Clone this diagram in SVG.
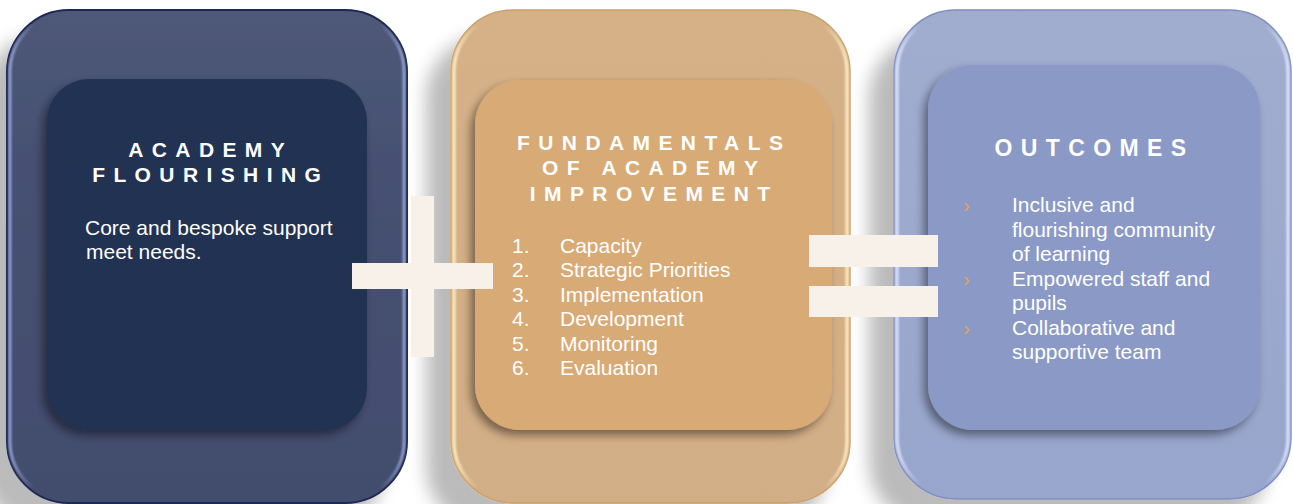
<svg xmlns="http://www.w3.org/2000/svg" width="1293" height="504" viewBox="0 0 1293 504">
  <style>
    .head { font-family: "Liberation Sans", Arial, sans-serif; font-weight: bold; font-size: 21px; letter-spacing: 8.4px; fill: #ffffff; text-anchor: middle; }
    .body { font-family: "Liberation Sans", Arial, sans-serif; font-size: 21px; fill: #ffffff; }
    .bullet { font-family: "Liberation Sans", Arial, sans-serif; font-size: 21px; fill: #e3a35a; }
    .sign { fill: #f8f1ea; }
  </style>
  <defs>
    <!-- soft shadow cast by the large panels -->
    <filter id="panelShadow" x="-20%" y="-20%" width="140%" height="140%">
      <feGaussianBlur in="SourceAlpha" stdDeviation="9"/>
      <feOffset dx="-24" dy="26" result="s"/>
      <feComponentTransfer in="s" result="sa"><feFuncA type="linear" slope="0.27"/></feComponentTransfer>
      <feMerge><feMergeNode in="sa"/><feMergeNode in="SourceGraphic"/></feMerge>
    </filter>
    <!-- shadow under the inner cards -->
    <filter id="cardShadow" x="-20%" y="-20%" width="140%" height="140%">
      <feGaussianBlur in="SourceAlpha" stdDeviation="5"/>
      <feOffset dx="-4" dy="5" result="s"/>
      <feComponentTransfer in="s" result="sa"><feFuncA type="linear" slope="0.45"/></feComponentTransfer>
      <feMerge><feMergeNode in="sa"/><feMergeNode in="SourceGraphic"/></feMerge>
    </filter>
    <filter id="soft" x="-5%" y="-5%" width="110%" height="110%">
      <feGaussianBlur stdDeviation="1"/>
    </filter>
    <!-- glossy rim highlights on the left and right edges -->
    <linearGradient id="rimNavy" x1="0" y1="0" x2="1" y2="0">
      <stop offset="0" stop-color="#a9b8ee" stop-opacity="0.9"/>
      <stop offset="0.06" stop-color="#a9b8ee" stop-opacity="0"/>
      <stop offset="0.94" stop-color="#a9b8ee" stop-opacity="0"/>
      <stop offset="1" stop-color="#a9b8ee" stop-opacity="0.9"/>
    </linearGradient>
    <linearGradient id="rimGold" x1="0" y1="0" x2="1" y2="0">
      <stop offset="0" stop-color="#fff0c8" stop-opacity="1"/>
      <stop offset="0.06" stop-color="#fff0c8" stop-opacity="0"/>
      <stop offset="0.94" stop-color="#fff0c8" stop-opacity="0"/>
      <stop offset="1" stop-color="#fff0c8" stop-opacity="1"/>
    </linearGradient>
    <linearGradient id="rimBlue" x1="0" y1="0" x2="1" y2="0">
      <stop offset="0" stop-color="#dfe6ff" stop-opacity="1"/>
      <stop offset="0.06" stop-color="#dfe6ff" stop-opacity="0"/>
      <stop offset="0.94" stop-color="#dfe6ff" stop-opacity="0"/>
      <stop offset="1" stop-color="#dfe6ff" stop-opacity="1"/>
    </linearGradient>
    <linearGradient id="fillNavy" x1="0" y1="0" x2="0" y2="1">
      <stop offset="0" stop-color="#4f5979"/>
      <stop offset="0.3" stop-color="#465072"/>
      <stop offset="1" stop-color="#434d6e"/>
    </linearGradient>
    <linearGradient id="fillGold" x1="0" y1="0" x2="0" y2="1">
      <stop offset="0" stop-color="#d6b187"/>
      <stop offset="1" stop-color="#d2ae86"/>
    </linearGradient>
    <linearGradient id="fillBlue" x1="0" y1="0" x2="0" y2="1">
      <stop offset="0" stop-color="#a1adcf"/>
      <stop offset="1" stop-color="#98a5cc"/>
    </linearGradient>
  </defs>

  <rect x="0" y="0" width="1293" height="504" fill="#ffffff"/>

  <!-- Academy flourishing -->
  <g id="academy-flourishing">
    <rect x="7" y="10" width="400" height="493" rx="62" fill="url(#fillNavy)" stroke="#1e2952" stroke-width="2" filter="url(#panelShadow)"/>
    <rect x="10" y="13" width="394" height="487" rx="59" fill="none" stroke="url(#rimNavy)" stroke-width="2.5" filter="url(#soft)"/>
    <rect x="47" y="79" width="320" height="351" rx="42" fill="#243052" filter="url(#cardShadow)"/>
    <text class="head" x="210.7" y="157">ACADEMY</text>
    <text class="head" x="210.7" y="182">FLOURISHING</text>
    <text class="body" x="85" y="235">Core and bespoke support</text>
    <text class="body" x="86" y="259">meet needs.</text>
  </g>

  <!-- Fundamentals of academy improvement -->
  <g id="fundamentals">
    <rect x="451" y="10" width="399" height="493" rx="62" fill="url(#fillGold)" stroke="#caa06a" stroke-width="1.5" filter="url(#panelShadow)"/>
    <rect x="454" y="13" width="393" height="487" rx="59" fill="none" stroke="url(#rimGold)" stroke-width="3" filter="url(#soft)"/>
    <rect x="475" y="80" width="357" height="350" rx="45" fill="#d8aa76" filter="url(#cardShadow)"/>
    <text class="head" x="654.2" y="150">FUNDAMENTALS</text>
    <text class="head" x="654.2" y="175">OF ACADEMY</text>
    <text class="head" x="654.2" y="201">IMPROVEMENT</text>
    <text class="body" x="512" y="253">1.</text><text class="body" x="560" y="253">Capacity</text>
    <text class="body" x="512" y="277">2.</text><text class="body" x="560" y="277">Strategic Priorities</text>
    <text class="body" x="512" y="302">3.</text><text class="body" x="560" y="302">Implementation</text>
    <text class="body" x="512" y="326">4.</text><text class="body" x="560" y="326">Development</text>
    <text class="body" x="512" y="351">5.</text><text class="body" x="560" y="351">Monitoring</text>
    <text class="body" x="512" y="375">6.</text><text class="body" x="560" y="375">Evaluation</text>
  </g>

  <!-- Outcomes -->
  <g id="outcomes">
    <rect x="894" y="10" width="397" height="489" rx="62" fill="url(#fillBlue)" stroke="#7d8dc0" stroke-width="1.5" filter="url(#panelShadow)"/>
    <rect x="897" y="13" width="391" height="483" rx="59" fill="none" stroke="url(#rimBlue)" stroke-width="3" filter="url(#soft)"/>
    <rect x="928" y="65" width="332" height="365" rx="45" fill="#8a99c6" filter="url(#cardShadow)"/>
    <text class="head" x="1094.5" y="156" style="font-size:23px;letter-spacing:8.4px">OUTCOMES</text>
    <text class="bullet" x="963" y="212">›</text>
    <text class="body" x="1012" y="212">Inclusive and</text>
    <text class="body" x="1012" y="237">flourishing community</text>
    <text class="body" x="1012" y="261">of learning</text>
    <text class="bullet" x="963" y="286">›</text>
    <text class="body" x="1012" y="286">Empowered staff and</text>
    <text class="body" x="1012" y="310">pupils</text>
    <text class="bullet" x="963" y="335">›</text>
    <text class="body" x="1012" y="335">Collaborative and</text>
    <text class="body" x="1012" y="359">supportive team</text>
  </g>

  <!-- plus and equals signs between the panels -->
  <g id="connectors">
    <rect class="sign" x="411" y="196" width="23" height="161"/>
    <rect class="sign" x="352" y="263" width="141" height="26"/>
    <rect class="sign" x="809" y="235" width="129" height="32"/>
    <rect class="sign" x="809" y="286" width="129" height="31"/>
  </g>
</svg>
